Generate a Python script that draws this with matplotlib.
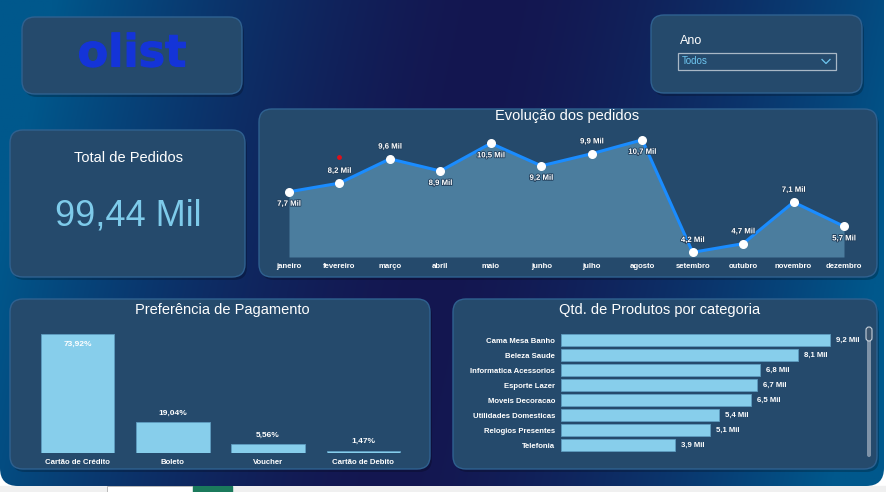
import numpy as np
import matplotlib
matplotlib.use("Agg")
import matplotlib.pyplot as plt
from matplotlib.patches import FancyBboxPatch, Rectangle
import matplotlib.patheffects as pe

plt.rcParams['font.family'] = ['Liberation Sans', 'DejaVu Sans']

# data
months = ["janeiro", "fevereiro", "março", "abril", "maio", "junho", "julho",
          "agosto", "setembro", "outubro", "novembro", "dezembro"]
orders_k = [7.7, 8.2, 9.6, 8.9, 10.5, 9.2, 9.9, 10.7, 4.2, 4.7, 7.1, 5.7]
label_side = ["below", "above", "above", "below", "below", "below", "above",
              "below", "above", "above", "above", "below"]
anomaly_month = 1
anomaly_value = 9.7

total_label = "99,44 Mil"

pay_types = ["Cartão de Crédito", "Boleto", "Voucher", "Cartão de Debito"]
pay_share = [73.92, 19.04, 5.56, 1.47]

categories = ["Cama Mesa Banho", "Beleza Saude", "Informatica Acessorios", "Esporte Lazer",
              "Moveis Decoracao", "Utilidades Domesticas", "Relogios Presentes", "Telefonia"]
cat_qty_k = [9.2, 8.1, 6.8, 6.7, 6.5, 5.4, 5.1, 3.9]

W, H = 886, 492
PANEL = "#254a6c"
EDGE = "#2f6190"
BAR = "#87ceeb"

fig = plt.figure(figsize=(W / 100, H / 100), dpi=100, facecolor="white")

# background axes in pixel coords
bg = fig.add_axes([0, 0, 1, 1])
bg.set_xlim(0, W)
bg.set_ylim(H, 0)
bg.axis("off")

# bottom strip (status bar)
bg.add_patch(Rectangle((0, 486), W, 6, color="#f0f0f0", zorder=0))
bg.add_patch(Rectangle((107, 486), 86, 6, facecolor="white", edgecolor="#b0b0b0", lw=0.6, zorder=0))
bg.add_patch(Rectangle((193, 486), 39, 6, color="#1b7a5c", zorder=0))

# gradient frame
frame = FancyBboxPatch((0, -20), 884, 506, boxstyle="round,pad=0,rounding_size=18",
                       facecolor="none", edgecolor="none")
bg.add_patch(frame)
xx = np.linspace(0, 1, 400)
yy = np.linspace(0, 1, 220)
X, Y = np.meshgrid(xx, yy)
t = np.clip(np.abs(2 * (X + 0.12 * (Y - 0.5)) - 1.0), 0, 1) ** 1.6
edge_c = np.array([0, 88, 140]) / 255
mid_c = np.array([20, 22, 80]) / 255
img = mid_c + (edge_c - mid_c) * t[..., None]
im = bg.imshow(img, extent=(0, 884, 486, 0), aspect="auto", zorder=0.5)
im.set_clip_path(frame)


def panel(x0, y0, x1, y1):
    bg.add_patch(FancyBboxPatch((x0 + 2, y0 + 3), x1 - x0, y1 - y0,
                                boxstyle="round,pad=0,rounding_size=13",
                                facecolor="black", edgecolor="none", alpha=0.22, zorder=1))
    bg.add_patch(FancyBboxPatch((x0, y0), x1 - x0, y1 - y0,
                                boxstyle="round,pad=0,rounding_size=13",
                                facecolor=PANEL, edgecolor=EDGE, lw=1.0, zorder=2))


panel(22, 17, 242, 94)
panel(651, 15, 862, 93)
panel(10, 130, 245, 277)
panel(259, 109, 877, 277)
panel(10, 299, 430, 469)
panel(453, 299, 877, 469)

# logo
bg.text(132, 54, "olist", color="#1434d8", fontsize=32, fontweight="bold",
        family="DejaVu Sans", ha="center", va="center", zorder=3,
        path_effects=[pe.withStroke(linewidth=0.8, foreground="#1434d8")])

# slicer
bg.text(680, 41, "Ano", color="white", fontsize=9, ha="left", va="center", zorder=3)
bg.add_patch(Rectangle((678, 53), 158, 17, facecolor=PANEL, edgecolor="#a9b8c6", lw=0.9, zorder=3))
bg.text(682, 61.5, "Todos", color="#6ec6f0", fontsize=7, ha="left", va="center", zorder=4)
bg.plot([822, 826, 830], [59.5, 63.5, 59.5], color="#6ec6f0", lw=0.9, zorder=4)

# KPI card
bg.text(129, 158, "Total de Pedidos", color="white", fontsize=10.5, ha="center", va="center", zorder=3)
bg.text(128, 216, total_label, color="#7ecbea", fontsize=26, ha="center", va="center", zorder=3)

# titles
bg.text(567, 116, "Evolução dos pedidos", color="white", fontsize=10.5, ha="center", va="center", zorder=3)
bg.text(222, 310, "Preferência de Pagamento", color="white", fontsize=10.5, ha="center", va="center", zorder=3)
bg.text(660, 310, "Qtd. de Produtos por categoria", color="white", fontsize=10.5, ha="center", va="center", zorder=3)

# scrollbar
bg.add_patch(FancyBboxPatch((867, 330), 4, 127, boxstyle="round,pad=0,rounding_size=2",
                            facecolor="#7f93a8", edgecolor="none", zorder=3))
bg.add_patch(FancyBboxPatch((866, 327), 6, 14, boxstyle="round,pad=0,rounding_size=3",
                            facecolor="#3d556d", edgecolor="#c8d2dc", lw=0.8, zorder=4))


def px_axes(x0, y0, x1, y1):
    a = fig.add_axes([x0 / W, 1 - y1 / H, (x1 - x0) / W, (y1 - y0) / H])
    a.patch.set_alpha(0)
    for s in a.spines.values():
        s.set_visible(False)
    return a


halo = [pe.withStroke(linewidth=1.3, foreground="#23415e")]

# line chart
ax1 = px_axes(289, 130, 844, 257)
x = np.arange(len(months))
ax1.set_xlim(0, len(months) - 1)
ax1.set_ylim(3.93, 11.27)
ax1.fill_between(x, orders_k, 3.93, color="#4b7d9e", lw=0)
ax1.plot(x, orders_k, color="#1a8cff", lw=2.2, clip_on=False, zorder=3)
ax1.scatter(x, orders_k, s=30, color="white", zorder=4, clip_on=False)
ax1.scatter([anomaly_month], [anomaly_value], s=6, color="#e0101a", zorder=4, clip_on=False)
for i, v in enumerate(orders_k):
    dy = 8.5 if label_side[i] == "above" else -9
    ax1.annotate(f"{v:.1f} Mil".replace(".", ","), (i, v), xytext=(0, dy),
                 textcoords="offset points", ha="center", va="center",
                 color="white", fontsize=5.6, fontweight="bold", path_effects=halo,
                 annotation_clip=False, zorder=5)
ax1.set_xticks(x)
ax1.set_xticklabels(months, color="white", fontsize=5.6, fontweight="bold")
ax1.tick_params(axis="x", length=0, pad=4)
ax1.set_yticks([])

# payment bars
ax2 = px_axes(30, 323, 411, 453)
xp = np.arange(len(pay_types))
ax2.bar(xp, pay_share, width=0.77, color=BAR, edgecolor="#5e9cc0", lw=0.6)
ax2.set_xlim(-0.5, len(pay_types) - 0.5)
ax2.set_ylim(0, 80.7)
for i, v in enumerate(pay_share):
    inside = v > 50
    ax2.annotate(f"{v:.2f}%".replace(".", ","), (i, v), xytext=(0, -7.5 if inside else 6.5),
                 textcoords="offset points", ha="center", va="center",
                 color="white", fontsize=6, fontweight="bold", annotation_clip=False)
ax2.set_xticks(xp)
ax2.set_xticklabels(pay_types, color="white", fontsize=5.6, fontweight="bold")
ax2.tick_params(axis="x", length=0, pad=4)
ax2.set_yticks([])

# category bars
ax3 = px_axes(561, 332.8, 853, 452.8)
yc = np.arange(len(categories))
ax3.barh(yc, cat_qty_k, height=0.8, color=BAR, edgecolor="#5e9cc0", lw=0.6)
ax3.set_xlim(0, 10)
ax3.set_ylim(len(categories) - 0.5, -0.5)
for i, v in enumerate(cat_qty_k):
    ax3.annotate(f"{v:.1f} Mil".replace(".", ","), (v, i), xytext=(4.5, 0),
                 textcoords="offset points", ha="left", va="center",
                 color="white", fontsize=5.6, fontweight="bold", annotation_clip=False)
ax3.set_yticks(yc)
ax3.set_yticklabels(categories, color="white", fontsize=5.6, fontweight="bold")
ax3.tick_params(axis="y", length=0, pad=4.3)
ax3.set_xticks([])

fig.savefig("out.png", dpi=100, facecolor=fig.get_facecolor())
